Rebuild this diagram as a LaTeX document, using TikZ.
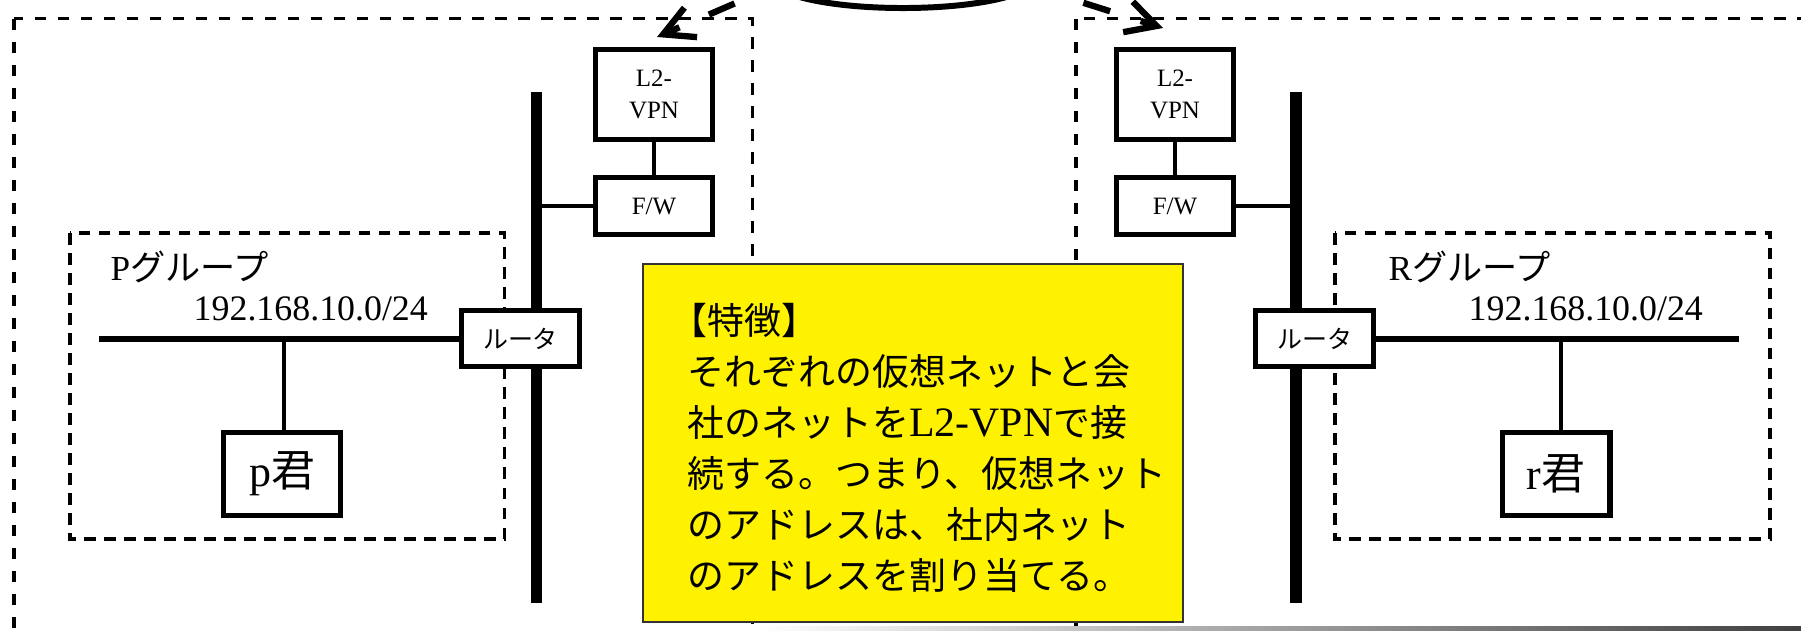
\documentclass[tikz,border=0pt]{standalone}
\usepackage{fontspec}
\setmainfont{Liberation Serif}
\newfontfamily\jp{Noto Sans CJK JP}
\usetikzlibrary{arrows.meta,shapes.geometric}
\pgfdeclarelayer{background}
\pgfsetlayers{background,main}
\begin{document}
\begin{tikzpicture}[x=0.01cm,y=-0.01cm,
  dev/.style={draw, line width=1.5pt, fill=white, inner sep=0pt, align=center,
    font=\fontsize{7.1pt}{9.1pt}\selectfont},
  outerbox/.style={draw, line width=1pt, dash pattern=on 0.115cm off 0.115cm},
  groupbox/.style={draw, line width=1pt, dash pattern=on 0.115cm off 0.085cm},
  bus/.style={line width=3.2pt},
  lan/.style={line width=1.6pt},
  link/.style={line width=1.3pt},
  grouplabel/.style={anchor=base west, inner sep=0pt, font=\fontsize{10pt}{12pt}\selectfont},
  iplabel/.style={anchor=base west, inner sep=0pt, font=\fontsize{10.2pt}{12pt}\selectfont},
  pcbox/.style={dev, font=\fontsize{12.5pt}{14pt}\selectfont},
  featline/.style={anchor=base west, inner sep=0pt, font=\jp\fontsize{10.5pt}{14.5pt}\selectfont},
  netarrow/.style={line width=1.8pt, -{Straight Barb[length=0.30cm,width=0.32cm]}}
]
\useasboundingbox (0,0) rectangle (1801,630);
\clip (0,0) rectangle (1801,630);

% ---- devices (left) ----
\node[dev, minimum width=1.167cm, minimum height=0.897cm] (l2L) at (654,94.5) {L2-\\VPN};
\node[dev, minimum width=1.167cm, minimum height=0.567cm] (fwL) at (654,206) {F/W};
\node[dev, minimum width=1.177cm, minimum height=0.557cm] (rtL) at (520.5,338.5) {\jp ルータ};
\node[pcbox, minimum width=1.167cm, minimum height=0.827cm] (pk) at (282,474) {p{\jp 君}};
% ---- devices (right) ----
\node[dev, minimum width=1.167cm, minimum height=0.897cm] (l2R) at (1175,94.5) {L2-\\VPN};
\node[dev, minimum width=1.167cm, minimum height=0.567cm] (fwR) at (1175,206) {F/W};
\node[dev, minimum width=1.177cm, minimum height=0.557cm] (rtR) at (1314.5,338.5) {\jp ルータ};
\node[pcbox, minimum width=1.077cm, minimum height=0.827cm] (rk) at (1556,474) {r{\jp 君}};

% ---- coordinates ----
\coordinate (bLt) at (536.5,92);
\coordinate (bLb) at (536.5,603);
\coordinate (bRt) at (1296,92);
\coordinate (bRb) at (1296,603);
\coordinate (lanL) at (99,339);
\coordinate (lanR) at (1739,339);
\coordinate (dL) at (284,339);
\coordinate (dR) at (1561,339);

\begin{pgfonlayer}{background}
  % outer company areas
  \draw[outerbox] (14,18.5) rectangle (752.5,700);
  \draw[outerbox] (1076,18.5) rectangle (1900,700);
  % groups
  \draw[groupbox] (70,233) rectangle (504.5,539);
  \draw[groupbox] (1335,233) rectangle (1770,539);
  % backbone buses
  \draw[bus] (bLt) -- (bLb);
  \draw[bus] (bRt) -- (bRb);
  % LANs
  \draw[lan] (lanL) -- (lanL -| rtL.west);
  \draw[lan] (rtR.east |- lanR) -- (lanR);
  % links
  \draw[link] (dL) -- (dL |- pk.north);
  \draw[link] (dR) -- (dR |- rk.north);
  \draw[link] (fwL.west) -- (fwL.west -| bLt);
  \draw[link] (fwR.east) -- (fwR.east -| bRt);
  \draw[link] (l2L.south) -- (fwL.north);
  \draw[link] (l2R.south) -- (fwR.north);
\end{pgfonlayer}

% ---- group labels ----
\node[grouplabel] (gP) at (110,280) {P{\jp グループ}};
\node[iplabel] (ipP) at (193,320) {192.168.10.0/24};
\node[grouplabel] (gR) at (1388,280) {R{\jp グループ}};
\node[iplabel] (ipR) at (1468,320) {192.168.10.0/24};

% ---- feature box ----
\node[draw=black!80, line width=0.6pt, fill=yellow, inner sep=0pt,
      minimum width=5.40cm, minimum height=3.58cm] (feat) at (913,443) {};
\node[featline] (f1) at (670,334) {【特徴】};
\node[featline] (f2) at (687,385) {それぞれの仮想ネットと会};
\node[featline] (f3) at (687,436) {社のネットを{\rmfamily\fontsize{11.9pt}{14.5pt}\selectfont L2-VPN}で接};
\node[featline] (f4) at (687,487) {続する。つまり、仮想ネット};
\node[featline] (f5) at (687,538) {のアドレスは、社内ネット};
\node[featline] (f6) at (687,589) {のアドレスを割り当てる。};

% ---- network cloud (cropped) and tunnels ----
\node[draw, shape=ellipse, line width=1.7pt, inner sep=0pt,
      minimum width=2.6cm, minimum height=0.56cm] (net) at (903,-20) {};
\coordinate (tipL) at (657,37);
\coordinate (tipR) at (1163,28);
\draw[netarrow, dash pattern=on 0.28cm off 0.32cm, dash phase=0.18cm] (net.183) -- (tipL);
\draw[netarrow, dash pattern=on 0.28cm off 0.32cm, dash phase=0.07cm] (net.-3) -- (tipR);

% ---- bottom edge shading ----
\shade[left color=white, right color=black!75] (755,626.5) rectangle (1801,631);
\end{tikzpicture}
\end{document}
